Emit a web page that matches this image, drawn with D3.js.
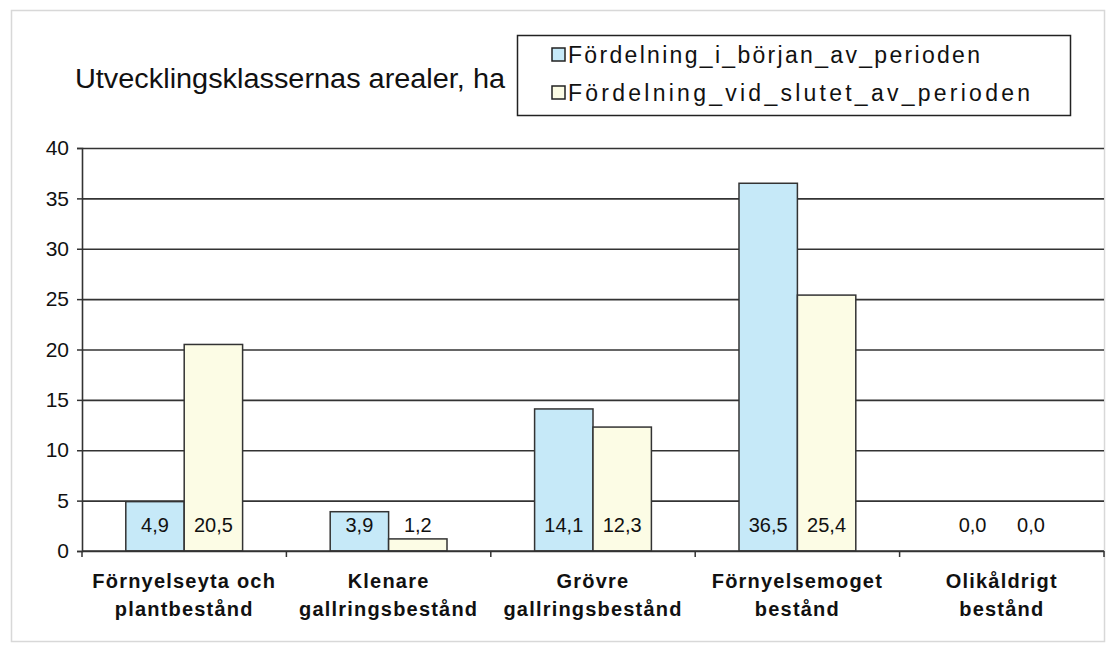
<!DOCTYPE html>
<html>
<head>
<meta charset="utf-8">
<title>Utvecklingsklassernas arealer</title>
<script src="https://d3js.org/d3.v7.min.js"></script>
<style>
    body { margin: 0; background: #fff; }
    svg text { font-family: "Liberation Sans", Arial, sans-serif; fill: #111; }
</style>
</head>
<body>
<div id="chart"></div>
<script>
// chart values
var categories = [
    ["Förnyelseyta och", "plantbestånd"],
    ["Klenare", "gallringsbestånd"],
    ["Grövre", "gallringsbestånd"],
    ["Förnyelsemoget", "bestånd"],
    ["Olikåldrigt", "bestånd"]
];
var seriesNames = ["Fördelning_i_början_av_perioden", "Fördelning_vid_slutet_av_perioden"];
var startValues = [4.9, 3.9, 14.1, 36.5, 0.0];
var endValues = [20.5, 1.2, 12.3, 25.4, 0.0];
var yTicks = [0, 5, 10, 15, 20, 25, 30, 35, 40];
var colors = ["#c6e9f8", "#fcfce5"];

var W = 1109, H = 647;
var margin = { top: 148, right: 5, bottom: 96, left: 82 };
var width = W - margin.left - margin.right,
    height = H - margin.top - margin.bottom;

var svg = d3.select("#chart").append("svg")
    .attr("width", W)
    .attr("height", H);

// outer frame of the chart
svg.append("rect")
    .attr("x", 11.5).attr("y", 10.5)
    .attr("width", W - 16).attr("height", H - 16)
    .attr("fill", "none")
    .attr("stroke", "#d8d8d8")
    .attr("stroke-width", 1.5);

// title
svg.append("text")
    .attr("x", 75).attr("y", 88)
    .attr("font-size", 27)
    .attr("textLength", 430)
    .attr("lengthAdjust", "spacingAndGlyphs")
    .text("Utvecklingsklassernas arealer, ha");

// legend
var legendW = [412, 462];
var legend = svg.append("g").attr("transform", "translate(517,35)");
legend.append("rect")
    .attr("x", 0.5).attr("y", 0.5)
    .attr("width", 553).attr("height", 80)
    .attr("fill", "#fff")
    .attr("stroke", "#222")
    .attr("stroke-width", 1.5);
seriesNames.forEach(function (name, i) {
    var row = legend.append("g").attr("transform", "translate(35," + (20 + i * 38) + ")");
    row.append("rect")
        .attr("x", 0).attr("y", -7)
        .attr("width", 13).attr("height", 13)
        .attr("fill", colors[i])
        .attr("stroke", "#222")
        .attr("stroke-width", 1.5);
    row.append("text")
        .attr("x", 16).attr("y", 8)
        .attr("font-size", 23)
        .attr("textLength", legendW[i])
        .attr("lengthAdjust", "spacing")
        .text(name);
});

var g = svg.append("g")
    .attr("transform", "translate(" + margin.left + "," + margin.top + ")");

var x = d3.scaleBand()
    .domain(d3.range(categories.length))
    .range([0, width]);

// Excel style: gap width 150%
var barW = x.bandwidth() / 3.5;
var x1 = d3.scaleBand()
    .domain([0, 1])
    .range([barW * 0.75, barW * 2.75]);

var y = d3.scaleLinear()
    .domain([0, 40])
    .range([height, 0]);

// gridlines
g.append("g")
    .attr("class", "grid")
    .call(d3.axisLeft(y).tickValues(yTicks).tickSize(-width).tickFormat(""))
    .call(function (s) {
        s.select(".domain").remove();
        s.selectAll("line").attr("stroke", "#333").attr("stroke-width", 1.6);
    });

// bars
var rows = categories.map(function (c, i) {
    return { i: i, values: [startValues[i], endValues[i]] };
});

var groups = g.selectAll(".cat")
    .data(rows)
    .enter().append("g")
    .attr("class", "cat")
    .attr("transform", function (d) { return "translate(" + x(d.i) + ",0)"; });

groups.selectAll("rect")
    .data(function (d) { return d.values.map(function (v, k) { return { k: k, v: v }; }); })
    .enter().append("rect")
    .filter(function (d) { return d.v > 0; })
    .attr("x", function (d) { return x1(d.k); })
    .attr("y", function (d) { return y(d.v); })
    .attr("width", x1.bandwidth())
    .attr("height", function (d) { return height - y(d.v); })
    .attr("fill", function (d) { return colors[d.k]; })
    .attr("stroke", "#333")
    .attr("stroke-width", 1.5);

// value labels, inside the base of each bar
groups.selectAll(".val")
    .data(function (d) { return d.values.map(function (v, k) { return { k: k, v: v }; }); })
    .enter().append("text")
    .attr("class", "val")
    .attr("x", function (d) { return x1(d.k) + x1.bandwidth() / 2; })
    .attr("y", height - 19)
    .attr("text-anchor", "middle")
    .attr("font-size", 20)
    .text(function (d) { return d3.format(".1f")(d.v).replace(".", ","); });

// y axis
g.append("g")
    .call(d3.axisLeft(y).tickValues(yTicks).tickSize(5).tickPadding(8))
    .call(function (s) {
        s.select(".domain").attr("stroke", "#333").attr("stroke-width", 1.6);
        s.selectAll("line").attr("stroke", "#333").attr("stroke-width", 1.5);
        s.selectAll("text").attr("font-size", 21).attr("fill", "#111")
            .attr("font-family", "'Liberation Sans', Arial, sans-serif");
    });

// x axis line and category boundary ticks
var xAxis = g.append("g").attr("transform", "translate(0," + height + ")");
xAxis.append("line")
    .attr("x1", 0).attr("x2", width)
    .attr("stroke", "#333").attr("stroke-width", 1.6);
xAxis.selectAll(".tk")
    .data(d3.range(categories.length + 1))
    .enter().append("line")
    .attr("class", "tk")
    .attr("x1", function (d) { return d < categories.length ? x(d) : width; })
    .attr("x2", function (d) { return d < categories.length ? x(d) : width; })
    .attr("y1", 0).attr("y2", 6)
    .attr("stroke", "#333").attr("stroke-width", 1.5);

// category labels, two lines each
var lab = xAxis.selectAll(".lab")
    .data(categories)
    .enter().append("text")
    .attr("class", "lab")
    .attr("text-anchor", "middle")
    .attr("font-size", 20)
    .attr("font-weight", "bold")
    .attr("letter-spacing", 1.2)
    .attr("transform", function (d, i) { return "translate(" + (x(i) + x.bandwidth() / 2) + ",0)"; });
lab.selectAll("tspan")
    .data(function (d) { return d; })
    .enter().append("tspan")
    .attr("x", 0)
    .attr("y", function (d, k) { return 37 + k * 28; })
    .text(function (d) { return d; });
</script>
</body>
</html>
